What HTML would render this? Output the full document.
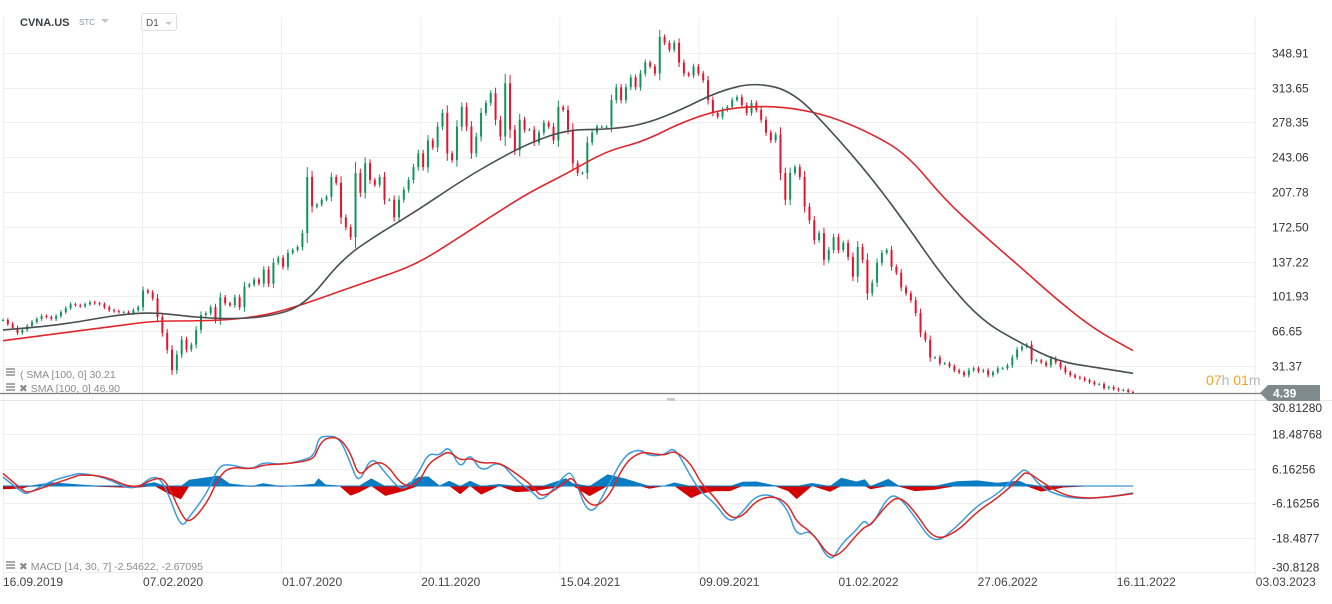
<!DOCTYPE html>
<html><head><meta charset="utf-8">
<style>
html,body{margin:0;padding:0;background:#fff;}
body{width:1332px;height:599px;overflow:hidden;font-family:"Liberation Sans",sans-serif;}
svg text{font-family:"Liberation Sans",sans-serif;}
</style></head>
<body>
<svg id="chart" width="1332" height="599" viewBox="0 0 1332 599" xmlns="http://www.w3.org/2000/svg">
  <g id="grid"></g>
  <g id="candles"></g>
  <g id="smas"></g>
  <g id="macd"></g>
  <g id="axes"></g>

  <line x1="0" y1="393.5" x2="1262" y2="393.5" stroke="#7a7f80" stroke-width="1.2"/>
  <line x1="0" y1="400.5" x2="1332" y2="400.5" stroke="#e6e6e6"/>
  <rect x="667" y="398" width="8" height="3" fill="#ccc"/>

  <g>
    <text x="20" y="26" font-size="11" font-weight="bold" fill="#3a3f44">CVNA.US</text>
    <text x="79" y="25" font-size="8" fill="#8a96a3">STC</text>
    <polygon points="101,19 109,19 105,23" fill="#c4c8cc"/>
    <rect x="141.5" y="13.5" width="35" height="17" rx="2" fill="#fff" stroke="#dde0e3"/>
    <text x="146" y="26" font-size="10" fill="#555">D1</text>
    <polygon points="165,22 172,22 168.5,25" fill="#c4c8cc"/>
  </g>

  <g>
    <rect x="6" y="368" width="9" height="2" fill="#aaa"/><rect x="6" y="371" width="9" height="2" fill="#aaa"/><rect x="6" y="374" width="9" height="2" fill="#aaa"/>
    <text x="20" y="378" font-size="10.5" fill="#8a8a8a">(  SMA [100, 0] 30.21</text>
    <rect x="6" y="383" width="9" height="2" fill="#aaa"/><rect x="6" y="386" width="9" height="2" fill="#aaa"/><rect x="6" y="389" width="9" height="2" fill="#aaa"/>
    <text x="19" y="392" font-size="10.5" fill="#8a8a8a">✖ SMA [100, 0] 46.90</text>
  </g>
  <g>
    <rect x="6" y="561" width="9" height="2" fill="#aaa"/><rect x="6" y="564" width="9" height="2" fill="#aaa"/><rect x="6" y="567" width="9" height="2" fill="#aaa"/>
    <text x="19" y="570" font-size="10.5" fill="#8a8a8a">✖ MACD [14, 30, 7] -2.54622, -2.67095</text>
  </g>

  <g>
    <text x="1206" y="385" font-size="14"><tspan fill="#f5a325">07</tspan><tspan fill="#b8b8b8">h </tspan><tspan fill="#f5a325">01</tspan><tspan fill="#b8b8b8">m</tspan></text>
  </g>
  <g>
    <polygon points="1260,393 1268,385 1320,385 1320,401 1268,401" fill="#7f8a8c"/>
    <text x="1273" y="397.5" font-size="12" font-weight="bold" fill="#fff">4.39</text>
  </g>
</svg>
<script>
// ---- data ----
const closes = [78,74,70,65,68,72,76,79,82,81,79,82,86,90,94,93,92,94,96,95,94,91,88,87,86,86,85,88,91,108,106,100,
81,65,48,27,43,58,48,53,68,83,85,91,78,101,95,93,101,91,112,114,119,115,129,115,136,141,132,146,149,152,166,223,193,195,200,203,223,217,182,172,162,227,207,237,220,215,223,200,200,182,200,210,220,233,247,233,260,253,274,288,247,240,274,294,274,247,264,288,298,308,281,264,318,271,250,281,271,271,258,268,278,274,260,294,291,271,237,227,227,258,268,274,274,274,301,314,301,314,324,314,328,339,335,328,365,359,352,359,339,328,326,335,328,321,301,288,284,291,294,301,304,296,288,298,291,281,268,260,266,227,200,227,233,223,193,179,159,166,139,149,162,149,156,142,122,152,139,105,116,136,146,149,132,126,111,105,98,85,65,58,40,40,34,34,31,27,25,22,27,29,26,27,22,25,29,29,32,40,48,51,53,37,37,35,32,39,35,30,25,22,20,19,17,15,13,13,9,10,8,7,7,5,4.39];
const smaBlack = [68,71,76,83,86,81,79,81,92,140,166,189,215,238,258,271,271,276,291,310,319,309,269,225,174,119,77,55,36,30,24];
const smaRed = [57,62,67,72,77,77,78,83,94,108,121,135,159,184,208,227,249,259,278,291,295,293,284,268,246,200,165,132,98,68,47];
const macdDays = [0,14,18,35,51,55,73,94,109,117,128,134,147,155,163,179,187,200,214,224,227,232,242,250,256,265,275,288,299,306,314,321,329,336,344,357,369,381,388,405,410,422,435,447,458,465,476,483,495,502,512,523,532,542,555,565,571,582,595,603,614,620,624,637,645,656,670,686,701,715,731,736,747,763,778,795,813];
const macdLine = [3.2,-2.5,-2.8,2,4,4.6,3.2,-2,4.3,0,-15.3,-11,-2.5,7.1,7.8,5.7,8.6,7.5,8.9,10.7,17.1,17.8,17.5,8.2,0.4,11,4.6,-2.5,4.6,11.8,10.7,14.6,5.7,12.1,4.6,9.3,2.1,-2.1,-6,4.6,4.6,-12,-0.4,11,13.2,10.7,11,14.2,3.2,-2.1,-6,-13.5,-9.3,-3.2,-3.2,-8.6,-18.2,-15.3,-27.8,-20.7,-15.7,-11.8,-15.3,-3.2,-3.9,-11,-21,-14.6,-6.8,-3.2,4.6,6.4,-0.7,-3.9,-4.6,-3.9,-2.5];
const macdSignal = [4.5,-1.5,-2.5,0.5,3.2,4,3.6,-1.2,2.8,2.5,-10,-13.5,-6,3,6.8,6,7.5,7.8,8.5,9.8,14,17.2,17.3,12,3,8,8.5,-0.5,1,8,10.5,12.5,9,10,8,8.5,4.5,0,-4.5,1.5,3.5,-8,-5,8,12,11.8,10.8,12.8,8,1,-4,-11.5,-11,-5,-3.5,-6.5,-13,-16.5,-25.5,-24,-17.5,-14.5,-14,-6,-3.6,-9,-19.5,-16.5,-9,-4.5,2.5,5.5,1.5,-3.3,-4.4,-4,-2.7];
const priceTicks = [348.91,313.65,278.35,243.06,207.78,172.50,137.22,101.93,66.65,31.37];
const priceTickLabels = ["348.91","313.65","278.35","243.06","207.78","172.50","137.22","101.93","66.65","31.37"];
const macdTicks = [30.8128,18.48768,6.16256,-6.16256,-18.4877,-30.8128];
const macdTickLabels = ["30.81280","18.48768","6.16256","-6.16256","-18.4877","-30.8128"];
const dateLabels = ["16.09.2019","07.02.2020","01.07.2020","20.11.2020","15.04.2021","09.09.2021","01.02.2022","27.06.2022","16.11.2022","03.03.2023"];

// ---- scales ----
const NS="http://www.w3.org/2000/svg";
const yP = p => 366 - (p - 31.37) * 0.98639;
const yM = v => 486 - v * 2.807;
const xFrac = f => 3 + f * 1130;
const xDay = d => 3 + d * 1.39;
function mk(tag, attrs, parent){const e=document.createElementNS(NS,tag);for(const k in attrs)e.setAttribute(k,attrs[k]);parent.appendChild(e);return e;}
function smoothPath(pts){
  let d='M'+pts[0][0].toFixed(1)+','+pts[0][1].toFixed(1);
  for(let i=1;i<pts.length-1;i++){
    const mx=(pts[i][0]+pts[i+1][0])/2, my=(pts[i][1]+pts[i+1][1])/2;
    d+=' Q'+pts[i][0].toFixed(1)+','+pts[i][1].toFixed(1)+' '+mx.toFixed(1)+','+my.toFixed(1);
  }
  const l=pts[pts.length-1]; d+=' L'+l[0].toFixed(1)+','+l[1].toFixed(1);
  return d;
}

const grid=document.getElementById('grid'), axes=document.getElementById('axes');
dateLabels.forEach((t,i)=>{
  const x = i===0 ? 3.5 : 142.5 + (i-1)*139.1;
  const l = mk('line',{x1:x,y1:17,x2:x,y2:578,stroke:'#efefef'},grid);
  
  
  const tx = mk('text',{x:(i===0?3:x+0.5),y:586,'font-size':12,fill:'#444'},axes);
  tx.textContent=t;
  
  
});
priceTicks.forEach((p,i)=>{
  const y=Math.round(yP(p))+0.5;
  const l=mk('line',{x1:3,y1:y,x2:1255,y2:y,stroke:'#efefef'},grid);
  
  
  const t=mk('text',{x:1272,y:y+4,'font-size':12,fill:'#333'},axes);
  t.textContent=priceTickLabels[i];
  
  
});
macdTicks.forEach((v,i)=>{
  const y=Math.round(yM(v))+0.5;
  if(i>0){const l=mk('line',{x1:3,y1:y,x2:1255,y2:y,stroke:'#efefef'},grid);
  
  }
  const ty = i===0 ? 412 : (i===macdTicks.length-1 ? y-1 : y+4);
  const t=mk('text',{x:1272,y:ty,'font-size':12,fill:'#333'},axes);
  t.textContent=macdTickLabels[i];
  
  
});

// candles
const cg=document.getElementById('candles');
const n=closes.length;
for(let i=0;i<n;i++){
  const c=closes[i], o=i>0?closes[i-1]:c;
  const hi=Math.max(o,c)+Math.abs(c-o)*0.15+1.5, lo=Math.min(o,c)-Math.abs(c-o)*0.15-1.5;
  const x=xFrac(i/(n-1));
  const col=c>=o?'#13935a':'#e3142d';
  const w=mk('line',{x1:x,y1:yP(hi),x2:x,y2:yP(lo),stroke:col,'stroke-width':1},cg);
  
  
  const top=yP(Math.max(o,c)), bot=yP(Math.min(o,c));
  const b=mk('rect',{x:x-1,y:top,width:2,height:Math.max(1,bot-top),fill:col},cg);
  
  
}
// SMAs
const sg=document.getElementById('smas');
function line(arr, color, name){
  const pts=arr.map((v,i)=>[xFrac(i/(arr.length-1)),yP(v)]);
  const pl=mk('path',{d:smoothPath(pts),fill:'none',stroke:color,'stroke-width':1.6,'stroke-linejoin':'round'},sg);
  
  
}
line(smaRed,'#e0262b','sma-red-line');
line(smaBlack,'#4a4e52','sma-black-line');

// MACD
const mg=document.getElementById('macd');
const hp=[], hn=[];
macdDays.forEach((d,i)=>{const diff=(macdLine[i]-macdSignal[i])*0.9;hp.push([xDay(d),yM(Math.max(diff,0))]);hn.push([xDay(d),yM(Math.min(diff,0))]);});
function area(pts,col,name){
  const x0=pts[0][0], x1=pts[pts.length-1][0];
  const d='M'+x0+','+yM(0)+' '+pts.map(p=>'L'+p[0].toFixed(1)+','+p[1].toFixed(1)).join(' ')+' L'+x1+','+yM(0)+'Z';
  const p=mk('path',{d:d,fill:col},mg);
  
  
}
area(hp,'#0a7cc4','macd-histogram-positive');
area(hn,'#d40000','macd-histogram-negative');
const zl=mk('line',{x1:3,y1:yM(0),x2:xDay(macdDays[macdDays.length-1]),y2:yM(0),stroke:'#0a7cc4','stroke-width':1},mg);


function mline(arr,col,name){
  const pts=arr.map((v,i)=>[xDay(macdDays[i]),yM(v)]);
  const pl=mk('path',{d:smoothPath(pts),fill:'none',stroke:col,'stroke-width':1.5,'stroke-linejoin':'round'},mg);
  
  
}
mline(macdLine,'#3d9bdc','macd-line');
mline(macdSignal,'#e02424','macd-signal-line');
</script>
</body></html>
